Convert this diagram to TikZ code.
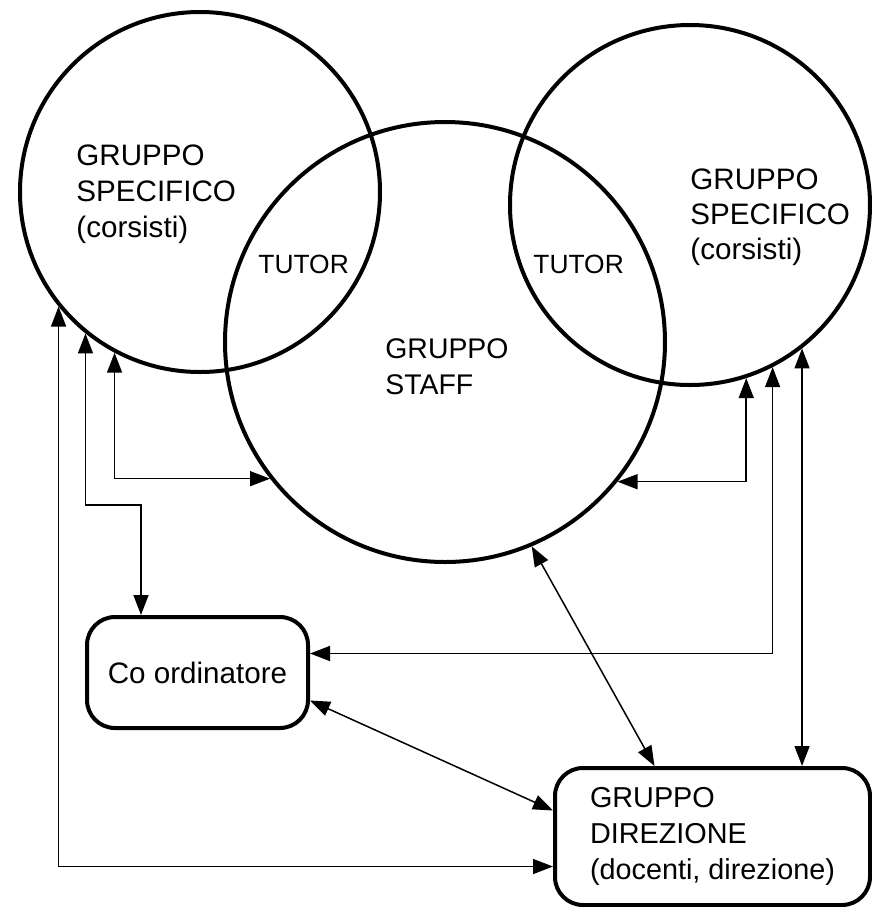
\documentclass[tikz,border=0pt]{standalone}
\usepackage{fontspec}
\setmainfont{Liberation Sans}
\usepackage{tikz}
\usetikzlibrary{arrows.meta, calc}
\tikzstyle{link} = [line width=0.75pt,{Triangle[length=10pt,width=7.5pt]}-{Triangle[length=10pt,width=7.5pt]}]
\tikzstyle{group} = [circle, draw, line width=2pt, inner sep=0pt]
\tikzstyle{role} = [draw, line width=2pt, rounded corners=14pt, align=left, inner sep=0pt]
\tikzstyle{txt} = [align=left, inner sep=0pt, anchor=base west]

\begin{document}
\begin{tikzpicture}[x=0.5pt,y=-0.5pt]
	\useasboundingbox (0,0) rectangle (872,907);
	\begin{scope}[font=\fontsize{14.8}{18}\selectfont]
		
		% Groups:
		% The three circles overlap, the two specific groups on the sides
		\node[group, minimum size=180pt] (lg) at (200,192) {};
		\node[group, minimum size=220pt] (st) at (445,342) {};
		\node[group, minimum size=180pt] (rg) at (690,205) {};
		
		% Texts inside the circles (placed by the baseline of their last line):
		\node[txt] (lgt) at (76,237) {GRUPPO\\SPECIFICO\\(corsisti)};
		\node[txt, font=\fontsize{14.8}{17.5}\selectfont] (rgt) at (690,259) {GRUPPO\\SPECIFICO\\(corsisti)};
		\node[txt, font=\fontsize{14.2}{18}\selectfont] (stt) at (385,394) {GRUPPO\\STAFF};
		\node[txt, font=\fontsize{13.2}{15}\selectfont] (tul) at (258,273) {TUTOR};
		\node[txt, font=\fontsize{13.2}{15}\selectfont] (tur) at (533,273) {TUTOR};
		
		% Roles:
		\node[role, minimum width=110.5pt, minimum height=55.5pt] (coo) at (197.5,672.5) {Co ordinatore};
		\node[role, minimum width=157.5pt, minimum height=68.5pt, font=\fontsize{14.4}{18}\selectfont] (dir) at (712.5,836.5) {GRUPPO\\DIREZIONE\\(docenti, direzione)};
		
		% Links:
		% Left group
		\coordinate (bend) at ($(coo.north west)+(56,-110)$);
		\draw[link] (lg.219.5) |- ($(dir.west)+(0,30)$);
		\draw[link] (lg.231.5) |- (bend) -- (bend |- coo.north);
		\draw[link] (lg.242.2) |- (st.218.9);
		
		% Right group
		\draw[link] (rg.288.5) |- (st.321.1);
		\draw[link] (rg.297.8) |- ($(coo.east)+(0,-19)$);
		\draw[link] (rg.308.5) -- (rg.308.5 |- dir.north);
		
		% Staff and co ordinatore towards direzione
		\draw[link] (st.293.7) -- ($(dir.north)+(-58,0)$);
		\draw[link] ($(coo.east)+(0,28)$) -- ($(dir.west)+(0,-26)$);
		
	\end{scope}
\end{tikzpicture}
\end{document}
